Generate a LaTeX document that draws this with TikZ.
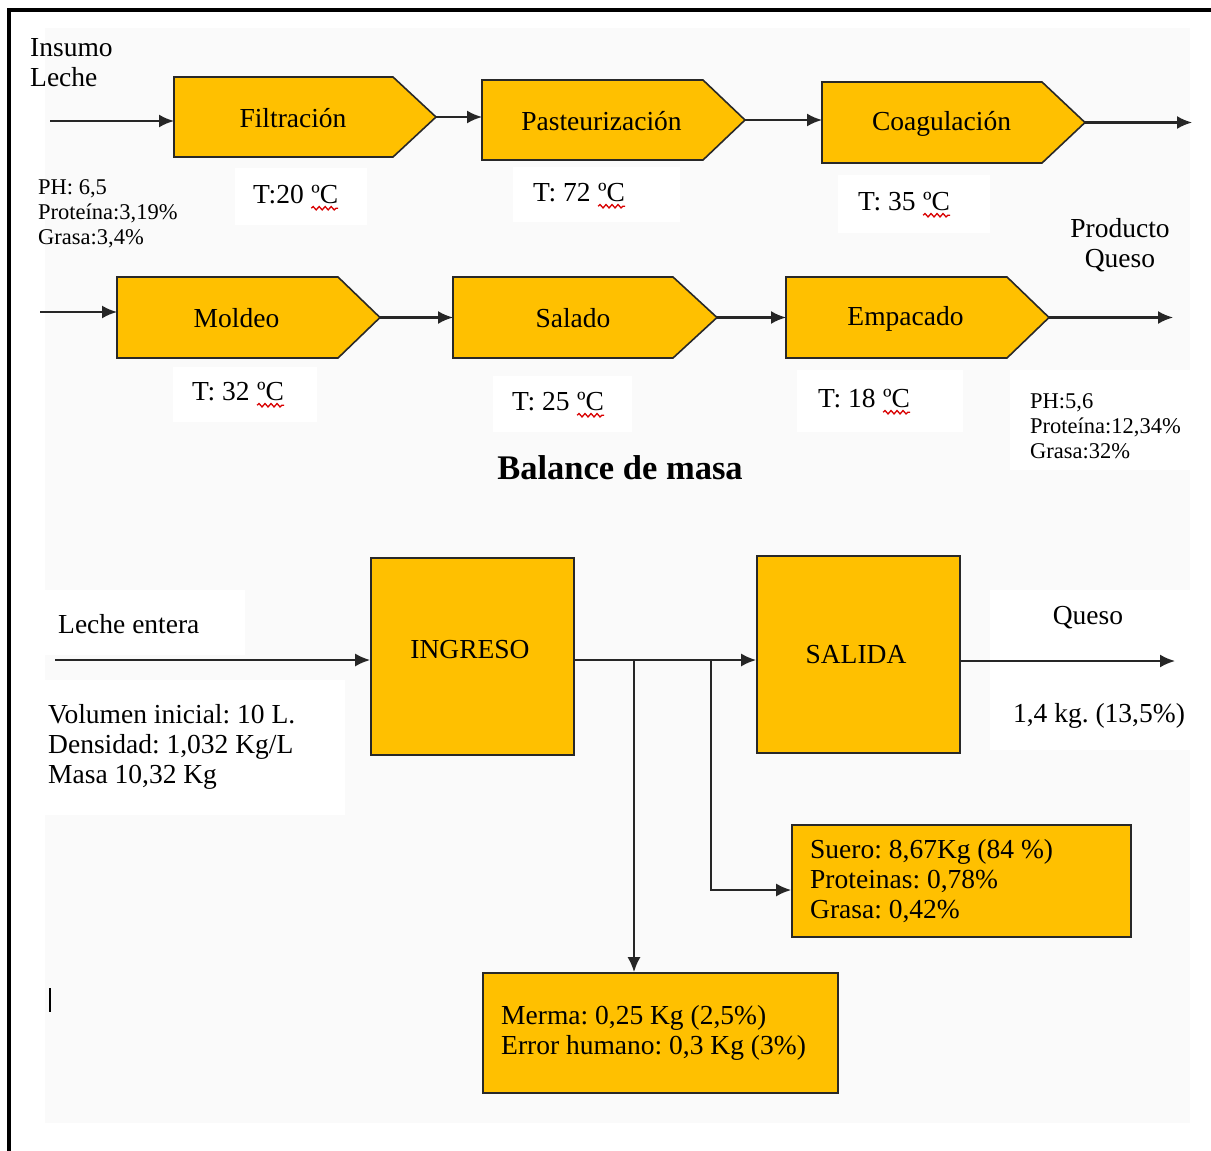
\documentclass[tikz,border=0pt]{standalone}
\usepackage{fontspec}
\setmainfont{Liberation Serif}
\usetikzlibrary{arrows.meta,decorations.pathmorphing}
\definecolor{boxfill}{RGB}{255,192,0}
\definecolor{boxline}{RGB}{40,40,40}
\definecolor{pagebg}{RGB}{250,250,250}
\frenchspacing

% red wavy underline under a piece of text
\newcommand\wavy[1]{\tikz[baseline=(wv.base)]{\node[inner sep=0pt,outer sep=0pt] (wv) {#1};
  \draw[red!85!black,line width=1.3pt,decorate,decoration={snake,amplitude=1.7pt,segment length=6pt}]
    ([yshift=-4.5pt]wv.base west) -- ([yshift=-4.5pt]wv.base east);}}

% arrow-shaped process step: name, left x, shoulder x, tip x, top y, bottom y, text
\newcommand\procstep[7]{%
  \draw[procbox] (#2,#5) -- (#3,#5) -- (#4,{(#5+#6)/2}) -- (#3,#6) -- (#2,#6) -- cycle;
  \coordinate (#1-in) at (#2,{(#5+#6)/2});
  \coordinate (#1-out) at (#4,{(#5+#6)/2});
  \node[txt] (#1) at ({(#2+#4)/2-12},{(#5+#6)/2+1}) {#7};}

\begin{document}
\begin{tikzpicture}[x=1pt,y=-1pt,
  txt/.style={inner sep=0pt,font=\fontsize{27.5}{30}\selectfont},
  smalltxt/.style={inner sep=0pt,align=left,font=\fontsize{22.5}{25}\selectfont},
  procbox/.style={draw=boxline,fill=boxfill,line width=1.6pt,line join=miter},
  rectbox/.style={draw=boxline,fill=boxfill,line width=1.6pt,inner sep=0pt},
  flow/.style={draw=black!85,line width=2.1pt,-{Latex[length=15pt,width=13pt]}},
  blank/.style={fill=white,draw=none}]

\useasboundingbox (0,0) rectangle (1211,1151);
\fill[white] (0,0) rectangle (1211,1151);
\fill[pagebg] (45,28) rectangle (1190,1123);

% white patches behind the labels
\fill[blank] (235,168) rectangle (367,225);
\fill[blank] (513,167) rectangle (680,222);
\fill[blank] (838,175) rectangle (990,233);
\fill[blank] (173,367) rectangle (317,422);
\fill[blank] (493,376) rectangle (632,432);
\fill[blank] (797,370) rectangle (963,432);
\fill[blank] (1010,370) rectangle (1190,470);
\fill[blank] (40,590) rectangle (245,655);
\fill[blank] (40,680) rectangle (345,815);
\fill[blank] (990,590) rectangle (1190,750);

% frame
\draw[line width=3.5pt] (9,1151) -- (9,10) -- (1211,10);

% ---- process line ----
\procstep{filt}{174}{393}{436}{77}{157}{Filtración}
\procstep{past}{482}{703}{745}{80}{160}{Pasteurización}
\procstep{coag}{822}{1042}{1085}{82}{163}{Coagulación}
\procstep{mold}{117}{338}{380}{277}{358}{Moldeo}
\procstep{sal}{453}{673}{717}{277}{358}{Salado}
\procstep{emp}{786}{1007}{1049}{277}{358}{Empacado}

\coordinate (in1) at (50,121);
\coordinate (out1) at (1192,122.5);
\coordinate (in2) at (40,312);
\coordinate (out2) at (1173,317.5);

\draw[flow] (in1) -- (in1 -| filt-in);
\draw[flow] (filt-out) -- (filt-out -| past-in);
\draw[flow] (past-out) -- (past-out -| coag-in);
\draw[flow] (coag-out) -- (out1);
\draw[flow] (in2) -- (in2 -| mold-in);
\draw[flow] (mold-out) -- (mold-out -| sal-in);
\draw[flow] (sal-out) -- (sal-out -| emp-in);
\draw[flow] (emp-out) -- (out2);

\node[txt,align=left,anchor=west] (insumo) at (30,63) {Insumo\\Leche};
\node[smalltxt,anchor=west] (phin) at (38,214) {PH: 6,5\\Proteína:3,19\%\\Grasa:3,4\%};
\node[txt,align=center] (producto) at (1120,245) {Producto\\Queso};
\node[smalltxt,anchor=west] (phout) at (1030,426) {PH:5,6\\Proteína:12,34\%\\Grasa:32\%};

\node[txt,anchor=west] (t1) at (253,198) {T:20 \wavy{ºC}};
\node[txt,anchor=west] (t2) at (533,196) {T: 72 \wavy{ºC}};
\node[txt,anchor=west] (t3) at (858,205) {T: 35 \wavy{ºC}};
\node[txt,anchor=west] (t4) at (192,395) {T: 32 \wavy{ºC}};
\node[txt,anchor=west] (t5) at (512,405) {T: 25 \wavy{ºC}};
\node[txt,anchor=west] (t6) at (818,402) {T: 18 \wavy{ºC}};

% ---- mass balance ----
\node[inner sep=0pt,font=\fontsize{34.5}{38}\selectfont\bfseries] (titulo) at (620,468) {Balance de masa};

\node[rectbox,minimum width=203pt,minimum height=197pt] (ingreso) at (472.5,656.5) {};
\node[txt] (ingreso-t) at (470,650) {INGRESO};
\node[rectbox,minimum width=203pt,minimum height=197pt] (salida) at (858.5,654.5) {};
\node[txt] (salida-t) at (856,655) {SALIDA};
\node[rectbox,minimum width=339pt,minimum height=112pt] (suero) at (961.5,881) {};
\node[txt,align=left,anchor=west] (suero-t) at (810,881) {Suero: 8,67Kg (84 \%)\\Proteinas: 0,78\%\\Grasa: 0,42\%};
\node[rectbox,minimum width=355pt,minimum height=120pt] (merma) at (660.5,1033) {};
\node[txt,align=left,anchor=west] (merma-t) at (501,1033) {Merma: 0,25 Kg (2,5\%)\\Error humano: 0,3 Kg (3\%)};

\node[txt,anchor=west] (leche) at (58,624) {Leche entera};
\node[txt,align=left,anchor=west] (datos) at (48,747) {Volumen inicial: 10 L.\\Densidad: 1,032 Kg/L\\Masa 10,32 Kg};
\node[txt] (queso) at (1088,618) {Queso};
\node[txt] (kg) at (1099,716) {1,4 kg. (13,5\%)};

\coordinate (lin) at (55,660);
\coordinate (b1) at (634,660);
\coordinate (b2) at (711,660);
\coordinate (qout) at (1175,661);

\draw[flow] (lin) -- (lin -| ingreso.west);
\draw[flow] (ingreso.east |- lin) -- (salida.west |- lin);
\draw[flow] (b1) -- (b1 |- merma.north);
\draw[flow] (b2) |- ([yshift=-9pt]suero.west);
\draw[flow] (salida.east |- qout) -- (qout);

% text cursor
\draw[line width=1.5pt] (50,988) -- (50,1012);
\end{tikzpicture}
\end{document}
